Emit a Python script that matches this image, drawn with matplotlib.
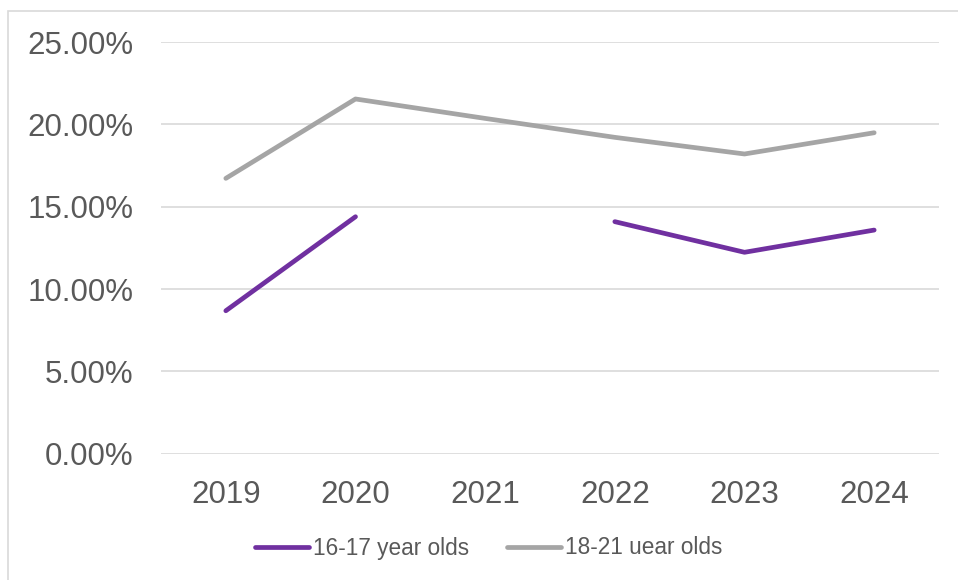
import matplotlib
matplotlib.use("Agg")
import matplotlib.pyplot as plt
import numpy as np
from matplotlib.patches import Rectangle
from matplotlib.ticker import FuncFormatter

years = ["2019", "2020", "2021", "2022", "2023", "2024"]
age_16_17 = [0.0868, 0.1439, np.nan, 0.1409, 0.1223, 0.1358]
age_18_21 = [0.1672, 0.2154, 0.2036, 0.1921, 0.1820, 0.1949]
series_names = ["16-17 year olds", "18-21 uear olds"]

plt.rcParams["font.family"] = ["Liberation Sans", "DejaVu Sans"]
text_col = "#595959"
grid_col = "#D9D9D9"

W, H = 958, 580
fig = plt.figure(figsize=(W / 100, H / 100), dpi=100)
ax = fig.add_axes([161 / W, (H - 453.7) / H, (939 - 161) / W, (453.7 - 42) / H])

x = np.arange(len(years))
ax.plot(x, age_16_17, color="#7030A0", lw=3.4, solid_capstyle="round",
        solid_joinstyle="round", label=series_names[0], zorder=3)
ax.plot(x, age_18_21, color="#A5A5A5", lw=3.4, solid_capstyle="round",
        solid_joinstyle="round", label=series_names[1], zorder=3)

ax.set_xlim(-0.5, len(years) - 0.5)
ax.set_ylim(0, 0.25)
ax.set_yticks(np.arange(0, 0.2501, 0.05))
ax.yaxis.set_major_formatter(FuncFormatter(lambda v, p: f"{v * 100:.2f}%"))
ax.set_xticks(x)
ax.set_xticklabels(years)
ax.tick_params(axis="both", length=0, labelsize=22.5, labelcolor=text_col)
ax.tick_params(axis="y", pad=20)
ax.tick_params(axis="x", pad=19)
ax.grid(axis="y", color=grid_col, lw=1.2)
ax.set_axisbelow(True)
for s in ax.spines.values():
    s.set_visible(False)

# chart area border (only left and top edges fall inside the image)
fig.patches.append(Rectangle((8 / W, -0.2), 2, (H - 11) / H + 0.2,
                             transform=fig.transFigure, fill=False,
                             ec=grid_col, lw=1.2))

leg = fig.legend(loc="center", bbox_to_anchor=(488.5 / W, (H - 548) / H),
                 ncol=2, frameon=False, fontsize=16.3, handlelength=2.4,
                 handletextpad=0.15, columnspacing=1.7)
for t in leg.get_texts():
    t.set_color(text_col)

fig.savefig("out.png", dpi=100)
